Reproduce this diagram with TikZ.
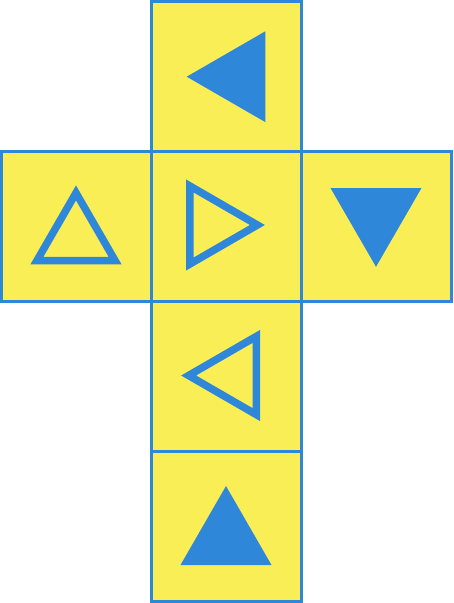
\documentclass[tikz,border=0pt]{standalone}
\definecolor{cellyellow}{HTML}{FAEE56}
\definecolor{cellblue}{HTML}{2F87D9}
\begin{document}
\begin{tikzpicture}[x=1pt,y=-1pt,
  cell/.style={fill=cellyellow,draw=cellblue,line width=3pt},
  solidtri/.style={fill=cellblue},
  hollowtri/.style={draw=cellblue,line width=7.5pt,miter limit=10,line join=miter}]
\useasboundingbox (0,0) rectangle (453,603);
% cells
\path[cell] (151.5,1.5) rectangle (301.5,151.5);
\path[cell] (1.5,151.5) rectangle (151.5,301.5);
\path[cell] (151.5,151.5) rectangle (301.5,301.5);
\path[cell] (301.5,151.5) rectangle (451.5,301.5);
\path[cell] (151.5,301.5) rectangle (301.5,451.5);
\path[cell] (151.5,451.5) rectangle (301.5,601.5);
% solid triangles
\path[solidtri] (186.7,76.7) -- (265.3,31.3) -- (265.3,122.1) -- cycle;
\path[solidtri] (376,266.8) -- (330.6,188.2) -- (421.4,188.2) -- cycle;
\path[solidtri] (226,486) -- (271.5,565) -- (180.5,565) -- cycle;
% hollow triangles
\path[hollowtri] (76,192.9) -- (115.06,260.55) -- (36.94,260.55) -- cycle;
\path[hollowtri] (257.4,225) -- (189.75,264.06) -- (189.75,185.94) -- cycle;
\path[hollowtri] (188.6,375.5) -- (256.25,336.44) -- (256.25,414.56) -- cycle;
\end{tikzpicture}
\end{document}
